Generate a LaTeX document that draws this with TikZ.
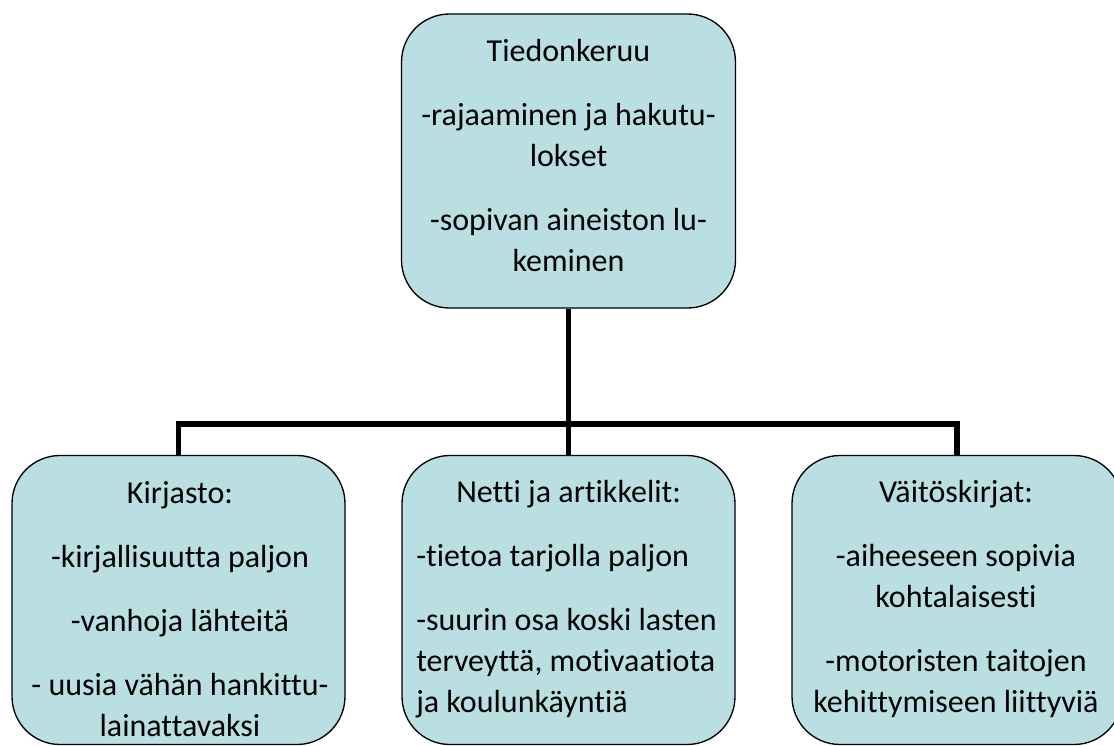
\documentclass[tikz,border=0pt]{standalone}
\usepackage{fontspec}
\setmainfont[Ligatures={NoCommon}]{Carlito}
\definecolor{boxfill}{RGB}{186,223,227}
\newcommand\mycl[1]{\hbox to 0pt{\hss #1\hss}}
\newcommand\myll[1]{\hbox{#1}}
\newcommand\pgap{\vskip 17.25pt}
\begin{document}
\begin{tikzpicture}[x=0.75pt,y=-0.75pt,
  boxnode/.style={draw=black,line width=1pt,fill=boxfill,rounded corners=36pt,inner sep=0pt},
  txt/.style={anchor=base,inner sep=0pt,font=\fontsize{24pt}{30.75pt}\selectfont},
  conn/.style={draw=black,line width=4.4pt}]
\useasboundingbox (0,0) rectangle (1114,746);
\clip (0,0) rectangle (1114,746);
% boxes
\node[boxnode,minimum width=250.5pt,minimum height=220.5pt] (top) at (568.5,161) {};
\node[boxnode,minimum width=249.75pt,minimum height=216.75pt] (left) at (178.5,600) {};
\node[boxnode,minimum width=249.75pt,minimum height=216.75pt] (mid) at (568.5,600) {};
\node[boxnode,minimum width=247.5pt,minimum height=216.75pt] (right) at (957,600) {};
% connectors
\coordinate (bus) at (568.5,424);
\draw[conn] (top.south) -- (bus);
\draw[conn] (bus) -- (mid.north);
\draw[conn] (left.north) |- (bus);
\draw[conn] (bus) -| (right.north);
% texts
\node[txt] (ttop) at (568.5,61) {\vtop{\baselineskip=30.75pt
  \mycl{Tiedonkeruu}\pgap
  \mycl{-rajaaminen ja hakutu-}
  \mycl{lokset}\pgap
  \mycl{-sopivan aineiston lu-}
  \mycl{keminen}}};
\node[txt] (tleft) at (180,503) {\vtop{\baselineskip=30.75pt
  \mycl{Kirjasto:}\pgap
  \mycl{-kirjallisuutta paljon}\pgap
  \mycl{-vanhoja lähteitä}\pgap
  \mycl{- uusia vähän hankittu-}
  \mycl{lainattavaksi}}};
\node[txt,anchor=base west] (tmid) at (416,502) {\vtop{\baselineskip=30.75pt
  \myll{\hskip 30pt\relax Netti ja artikkelit:}\pgap
  \myll{-tietoa tarjolla paljon}\pgap
  \myll{-suurin osa koski lasten}
  \myll{terveyttä, motivaatiota}
  \myll{ja koulunkäyntiä}}};
\node[txt] (tright) at (956,502) {\vtop{\baselineskip=30.75pt
  \mycl{Väitöskirjat:}\pgap
  \mycl{-aiheeseen sopivia}
  \mycl{kohtalaisesti}\pgap
  \mycl{-motoristen taitojen}
  \mycl{kehittymiseen liittyviä}}};
\end{tikzpicture}
\end{document}
